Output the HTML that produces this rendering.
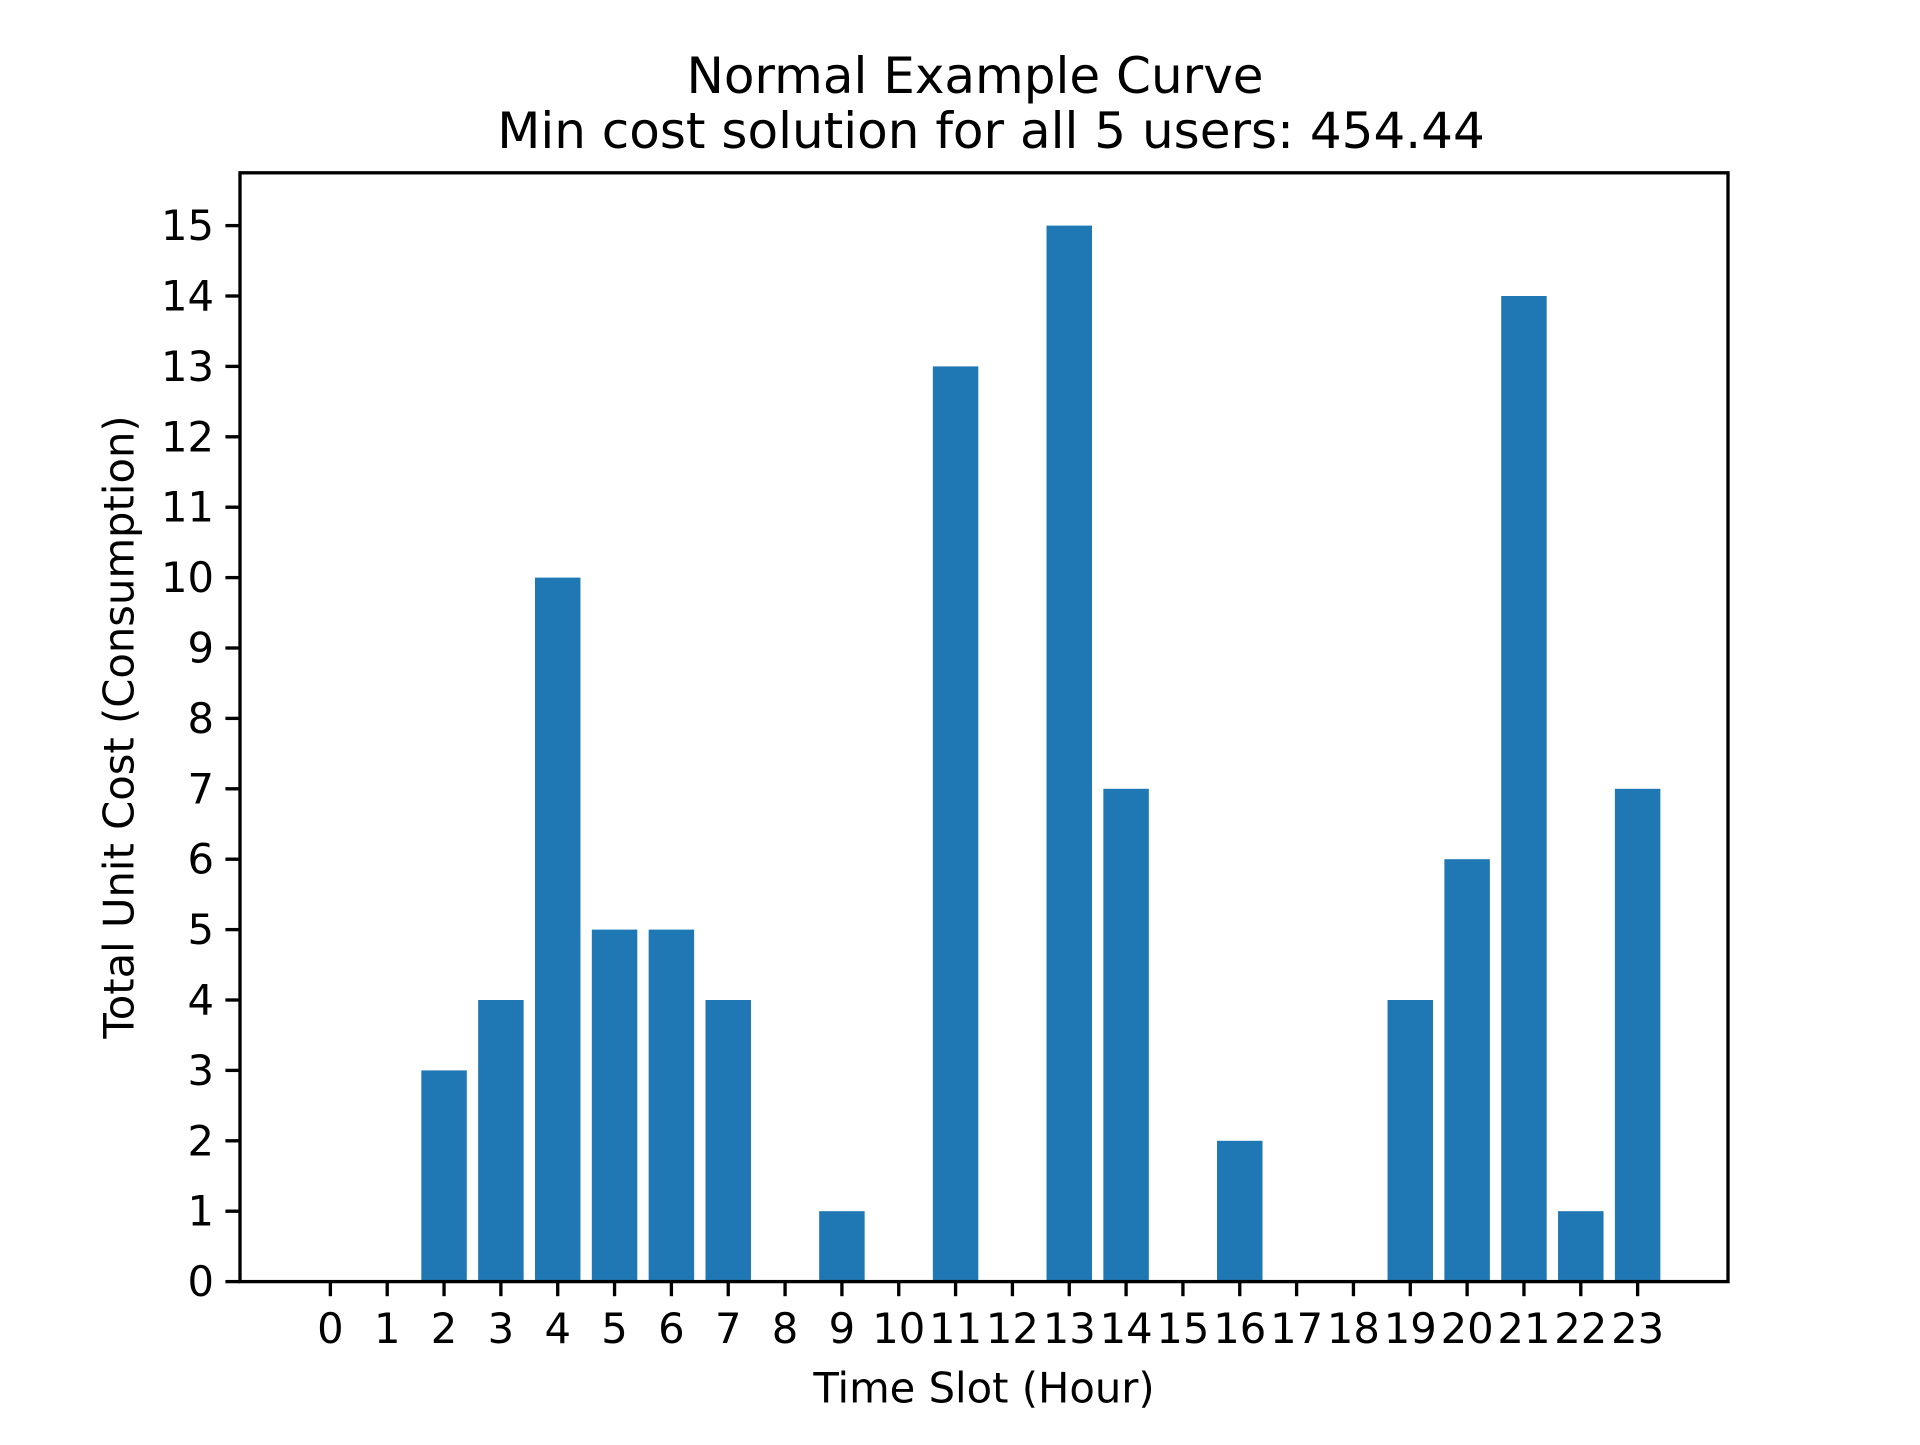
<!DOCTYPE html>
<html><head><meta charset="utf-8"><style>
html,body{margin:0;padding:0;background:#fff;}
svg text{font-family:"DejaVu Sans","Liberation Sans",sans-serif;fill:#000;}
</style></head><body>
<svg id="chart" width="1920" height="1440" viewBox="0 0 1920 1440" xmlns="http://www.w3.org/2000/svg">
<rect width="1920" height="1440" fill="#fff"/>
<text x="975" y="76" font-size="50" text-anchor="middle" dominant-baseline="central">Normal Example Curve</text>
<text x="991" y="131" font-size="50" text-anchor="middle" dominant-baseline="central">Min cost solution for all 5 users: 454.44</text>
<g id="bars"></g>
<g id="xticks"></g>
<g id="yticks"></g>
<rect x="240" y="172.8" width="1488" height="1108.8" fill="none" stroke="#000" stroke-width="3.33"/>
<text x="984" y="1388" font-size="41.7" text-anchor="middle" dominant-baseline="central">Time Slot (Hour)</text>
<text x="119" y="727" font-size="41.7" text-anchor="middle" dominant-baseline="central" transform="rotate(-90 119 727)">Total Unit Cost (Consumption)</text>
</svg>
<script>
const categories = [0,1,2,3,4,5,6,7,8,9,10,11,12,13,14,15,16,17,18,19,20,21,22,23];
const values = [0,0,3,4,10,5,5,4,0,1,0,13,0,15,7,0,2,0,0,4,6,14,1,7];
const yTicks = [0,1,2,3,4,5,6,7,8,9,10,11,12,13,14,15];
const NS = "http://www.w3.org/2000/svg";
const L=240,R=1728,T=172.8,B=1281.6;
const xMin=-1.59,xMax=24.59,yMin=0,yMax=15.75;
function xs(v){return L+(v-xMin)/(xMax-xMin)*(R-L);}
function ys(v){return B-(v-yMin)/(yMax-yMin)*(B-T);}
function mk(tag,attrs){const e=document.createElementNS(NS,tag);for(const k in attrs)e.setAttribute(k,attrs[k]);return e;}
const gb=document.getElementById('bars'),gx=document.getElementById('xticks'),gy=document.getElementById('yticks');
categories.forEach((c,i)=>{
  const x0=xs(c-0.4),x1=xs(c+0.4),y=ys(values[i]);
  const r=mk('rect',{x:x0,y:y,width:x1-x0,height:B-y,fill:'#1f77b4'});
  
  
  gb.appendChild(r);
  const t=mk('line',{x1:xs(c),x2:xs(c),y1:B,y2:B+14.6,stroke:'#000','stroke-width':3.33});
  
  
  gx.appendChild(t);
  const lb=mk('text',{x:xs(c),y:B+47,'font-size':41.7,'text-anchor':'middle','dominant-baseline':'central'});
  lb.textContent=c;
  
  
  gx.appendChild(lb);
});
yTicks.forEach(v=>{
  const t=mk('line',{x1:L-14.6,x2:L,y1:ys(v),y2:ys(v),stroke:'#000','stroke-width':3.33});
  
  
  gy.appendChild(t);
  const lb=mk('text',{x:L-26,y:ys(v),'font-size':41.7,'text-anchor':'end','dominant-baseline':'central'});
  lb.textContent=v;
  
  
  gy.appendChild(lb);
});
</script>
</body></html>
